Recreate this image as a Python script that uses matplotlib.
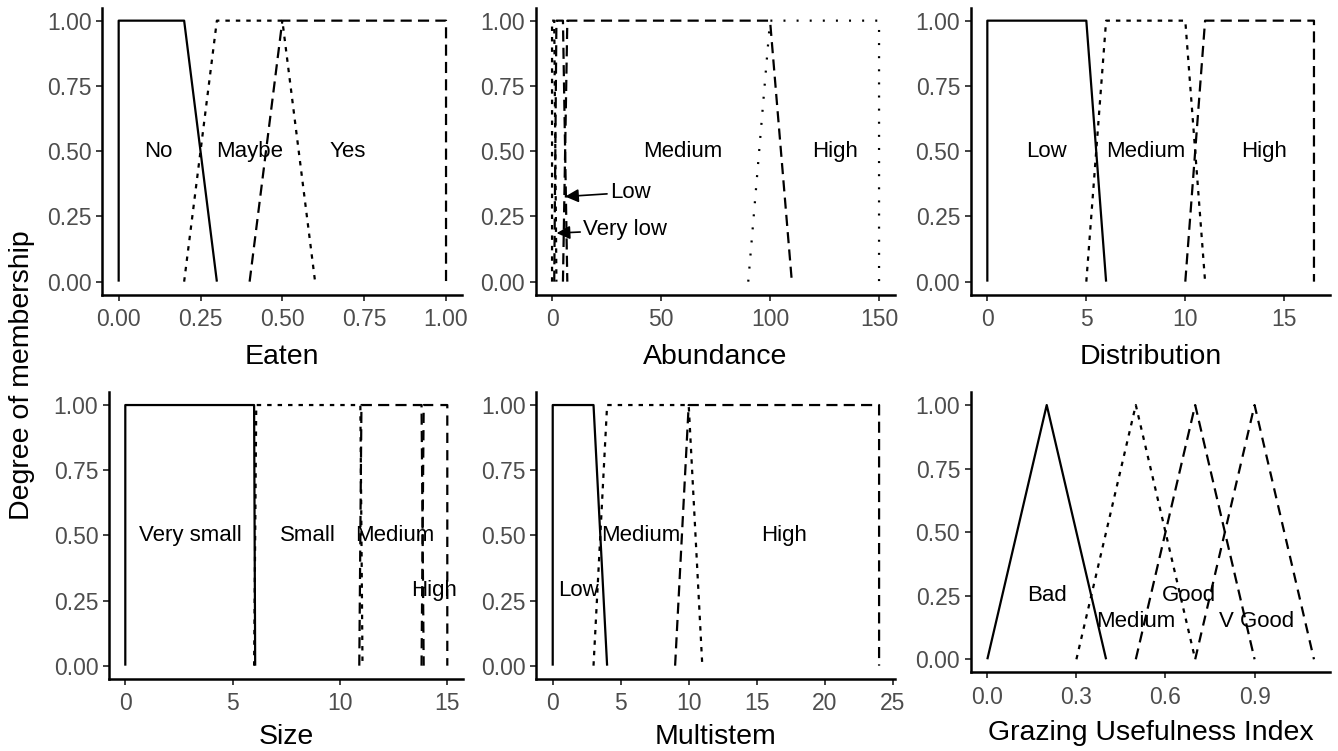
import matplotlib.pyplot as plt

plt.rcParams['font.family'] = ['Liberation Sans', 'DejaVu Sans']

# ---- membership functions (x breakpoints, y values) ----
trap_y = [0, 1, 1, 0]
tri_y = [0, 1, 0]

eaten_x = {'No': [0, 0, 0.2, 0.3], 'Maybe': [0.2, 0.3, 0.5, 0.6], 'Yes': [0.4, 0.5, 1.0, 1.0]}
abund_x = {'Very low': [0, 0, 1, 2], 'Low': [1, 2, 5, 7],
           'Medium': [5, 7, 100, 110], 'High': [90, 100, 150, 150]}
distr_x = {'Low': [0, 0, 5, 6], 'Medium': [5, 6, 10, 11], 'High': [10, 11, 16.5, 16.5]}
size_x = {'Very small': [0, 0, 6, 6.05], 'Small': [6, 6.1, 10.95, 11.05],
          'Medium': [10.9, 11, 13.8, 13.9], 'High': [13.8, 13.9, 15, 15]}
multi_x = {'Low': [0, 0, 3, 4], 'Medium': [3, 4, 10, 11], 'High': [9, 10, 24, 24]}
gui_x = {'Bad': [0, 0.2, 0.4], 'Medium': [0.3, 0.5, 0.7],
         'Good': [0.5, 0.7, 0.9], 'V Good': [0.7, 0.9, 1.1]}

# label positions (x, y)
eaten_lab = {'No': (0.12, 0.5), 'Maybe': (0.40, 0.5), 'Yes': (0.70, 0.5)}
abund_lab = {'Medium': (60, 0.5), 'High': (130, 0.5)}
distr_lab = {'Low': (3.0, 0.5), 'Medium': (8.0, 0.5), 'High': (14.0, 0.5)}
size_lab = {'Very small': (3.05, 0.5), 'Small': (8.5, 0.5), 'Medium': (12.55, 0.5), 'High': (14.4, 0.29)}
multi_lab = {'Low': (1.9, 0.29), 'Medium': (6.5, 0.5), 'High': (17.0, 0.5)}
gui_lab = {'Bad': (0.2, 0.25), 'Medium': (0.5, 0.15), 'Good': (0.68, 0.25), 'V Good': (0.905, 0.15)}

SOLID = '-'
DOT = (0, (2.0, 2.7))
DASH = (0, (5.0, 2.8))
LDASH = (0, (4.6, 3.2))
SPARSE = (0, (0.9, 5.0))

W, H = 1338, 751
fig = plt.figure(figsize=(W / 100, H / 100), dpi=100)


def px_axes(l, t, r, b):
    return fig.add_axes([l / W, 1 - b / H, (r - l) / W, (b - t) / H])


def panel(box, xs, styles, labels, xlim, xticks, xticklabels, xlabel, lpad=9):
    ax = px_axes(*box)
    for (name, x), ls in zip(xs.items(), styles):
        y = trap_y if len(x) == 4 else tri_y
        ax.plot(x, y, color='black', lw=1.6, linestyle=ls, solid_capstyle='butt',
                dash_capstyle='butt')
    for name, (lx, ly) in labels.items():
        ax.text(lx, ly, name, ha='center', va='center', fontsize=16, color='black')
    span = xlim[1] - xlim[0]
    ax.set_xlim(xlim[0] - 0.05 * span, xlim[1] + 0.05 * span)
    ax.set_ylim(-0.05, 1.05)
    ax.set_xticks(xticks)
    ax.set_xticklabels(xticklabels)
    ax.set_yticks([0, 0.25, 0.5, 0.75, 1.0])
    ax.set_yticklabels(['0.00', '0.25', '0.50', '0.75', '1.00'])
    for s in ['top', 'right']:
        ax.spines[s].set_visible(False)
    for s in ['left', 'bottom']:
        ax.spines[s].set_linewidth(1.8)
        ax.spines[s].set_color('black')
    ax.tick_params(length=4.3, width=1.3, color='#333333', labelsize=16.5,
                   labelcolor='#4D4D4D', pad=3.5)
    ax.tick_params(axis='x', pad=5.5)
    ax.set_xlabel(xlabel, fontsize=20.5, labelpad=lpad)
    return ax


panel((102.3, 7.6, 462.4, 294.7), eaten_x, [SOLID, DOT, DASH], eaten_lab, (0, 1),
      [0, 0.25, 0.5, 0.75, 1.0], ['0.00', '0.25', '0.50', '0.75', '1.00'], 'Eaten')
ax2 = panel((535.7, 7.6, 895.4, 294.7), abund_x, [DOT, DASH, DASH, SPARSE], abund_lab, (0, 150),
            [0, 50, 100, 150], ['0', '50', '100', '150'], 'Abundance')
arrow = dict(arrowstyle='-|>', color='black', lw=1.2, shrinkA=0, shrinkB=0, mutation_scale=20)
ax2.annotate('Low', xy=(6.0, 0.326), xytext=(26.5, 0.342), ha='left', va='center',
             fontsize=16, arrowprops=arrow)
ax2.annotate('Very low', xy=(2.1, 0.186), xytext=(14.2, 0.198), ha='left', va='center',
             fontsize=16, arrowprops=arrow)
panel((971.0, 7.6, 1330.3, 294.7), distr_x, [SOLID, DOT, DASH], distr_lab, (0, 16.5),
      [0, 5, 10, 15], ['0', '5', '10', '15'], 'Distribution')
panel((109.2, 392.0, 463.4, 678.7), size_x, [SOLID, DOT, DASH, LDASH], size_lab, (0, 15),
      [0, 5, 10, 15], ['0', '5', '10', '15'], 'Size', lpad=6)
panel((536.4, 392.0, 895.4, 678.7), multi_x, [SOLID, DOT, DASH], multi_lab, (0, 24),
      [0, 5, 10, 15, 20, 25], ['0', '5', '10', '15', '20', '25'], 'Multistem', lpad=6)
panel((971.0, 392.3, 1330.3, 672.0), gui_x, [SOLID, DOT, DASH, LDASH], gui_lab, (0, 1.1),
      [0, 0.3, 0.6, 0.9], ['0.0', '0.3', '0.6', '0.9'], 'Grazing Usefulness Index', lpad=8)

fig.text(22 / W, 1 - 375 / H, 'Degree of membership', rotation=90, ha='center', va='center',
         fontsize=20.5)

fig.savefig('out.png', dpi=100)
